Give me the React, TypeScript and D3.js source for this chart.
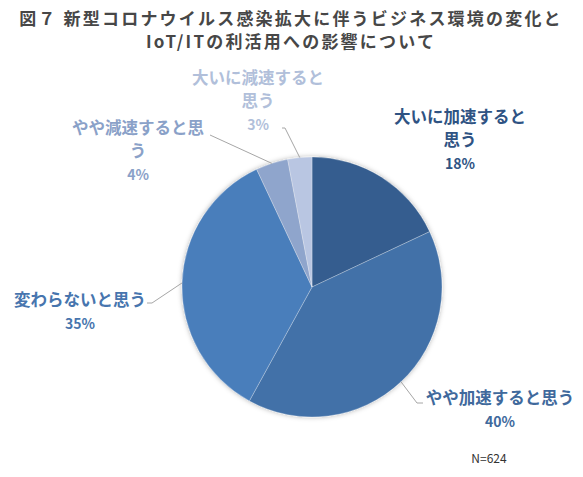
import { arc, pie, PieArcDatum } from "d3";

const categories = [
  "大いに加速すると思う",
  "やや加速すると思う",
  "変わらないと思う",
  "やや減速すると思う",
  "大いに減速すると思う",
];
const shares = [18, 40, 35, 4, 3];
const titleLines = [
  "図７ 新型コロナウイルス感染拡大に伴うビジネス環境の変化と",
  "IoT/ITの利活用への影響について",
];
// how each label is broken into lines (same text as categories)
const labelLines = [
  ["大いに加速すると", "思う"],
  ["やや加速すると思う"],
  ["変わらないと思う"],
  ["やや減速すると思", "う"],
  ["大いに減速すると", "思う"],
];
const sampleNote = "N=624";

const sliceColors = ["#345d8f", "#4271a8", "#4a7ebb", "#8fa5cc", "#b9c6e2"];
const labelColors = ["#2f5383", "#40699c", "#4775ae", "#8aa1c8", "#b1bfda"];

// label block: centre x, first line y, relative to the pie centre; elbow of leader line
const labelLayout = [
  { dx: 148, dy: -170, elbow: null as null | [number, number], end: null as null | [number, number] },
  { dx: 188, dy: 111, elbow: [105, 116], end: [111, 116] },
  { dx: -232, dy: 13, elbow: [-160, 16], end: [-165, 16] },
  { dx: -174, dy: -159, elbow: [-102, -152], end: [-102, -152] },
  { dx: -54, dy: -209, elbow: [-27, -159], end: [-30, -159] },
];

const width = 583;
const height = 477;
const cx = 312;
const cy = 287;
const radius = 130;
const font = "'Noto Sans CJK JP', 'Noto Sans', sans-serif";

export default function App() {
  const pieGen = pie<number>()
    .sort(null)
    .value((d) => d);
  const arcs = pieGen(shares);
  const arcGen = arc<PieArcDatum<number>>().innerRadius(0).outerRadius(radius);

  const edgePoint = (a: PieArcDatum<number>) => {
    const mid = (a.startAngle + a.endAngle) / 2;
    return [Math.sin(mid) * radius, -Math.cos(mid) * radius];
  };

  return (
    <svg
      width={width}
      height={height}
      style={{ position: "absolute", left: 0, top: 0, background: "#fff" }}
    >
      <defs>
        <filter id="glow" x="-20%" y="-20%" width="140%" height="140%">
          <feDropShadow dx="0" dy="0" stdDeviation="2.5" floodColor="#000" floodOpacity="0.3" />
        </filter>
      </defs>
      <g fontFamily={font} fontWeight="bold" fill="#474747" textAnchor="middle">
        {titleLines.map((t, i) => (
          <text key={t} x={291} y={25 + i * 23} fontSize={17} letterSpacing={2.2}>
            {t}
          </text>
        ))}
      </g>
      <g transform={`translate(${cx},${cy})`}>
        <g filter="url(#glow)">
          {arcs.map((a, i) => (
            <path
              key={categories[i]}
              d={arcGen(a) ?? ""}
              fill={sliceColors[i]}
              stroke="#ffffff"
              strokeOpacity={0.35}
              strokeWidth={0.8}
            />
          ))}
        </g>
        {arcs.map((a, i) => {
          const lay = labelLayout[i];
          if (!lay.elbow || !lay.end) return null;
          const [ex, ey] = edgePoint(a);
          return (
            <polyline
              key={`line-${i}`}
              points={`${ex},${ey} ${lay.elbow[0]},${lay.elbow[1]} ${lay.end[0]},${lay.end[1]}`}
              fill="none"
              stroke="#a6a6a6"
              strokeWidth={1}
            />
          );
        })}
        {arcs.map((a, i) => {
          const lay = labelLayout[i];
          const lines = labelLines[i];
          return (
            <text
              key={`label-${i}`}
              fontFamily={font}
              fontWeight="bold"
              fill={labelColors[i]}
              textAnchor="middle"
            >
              {lines.map((l, j) => (
                <tspan key={j} x={lay.dx} y={lay.dy + 6 + j * 23} fontSize={16.5}>
                  {l}
                </tspan>
              ))}
              <tspan x={lay.dx} y={lay.dy + 6 + lines.length * 23} fontSize={14}>
                {`${a.data}%`}
              </tspan>
            </text>
          );
        })}
      </g>
      <text x={489} y={463} fontFamily={font} fontSize={12} fill="#333" textAnchor="middle">
        {sampleNote}
      </text>
    </svg>
  );
}
